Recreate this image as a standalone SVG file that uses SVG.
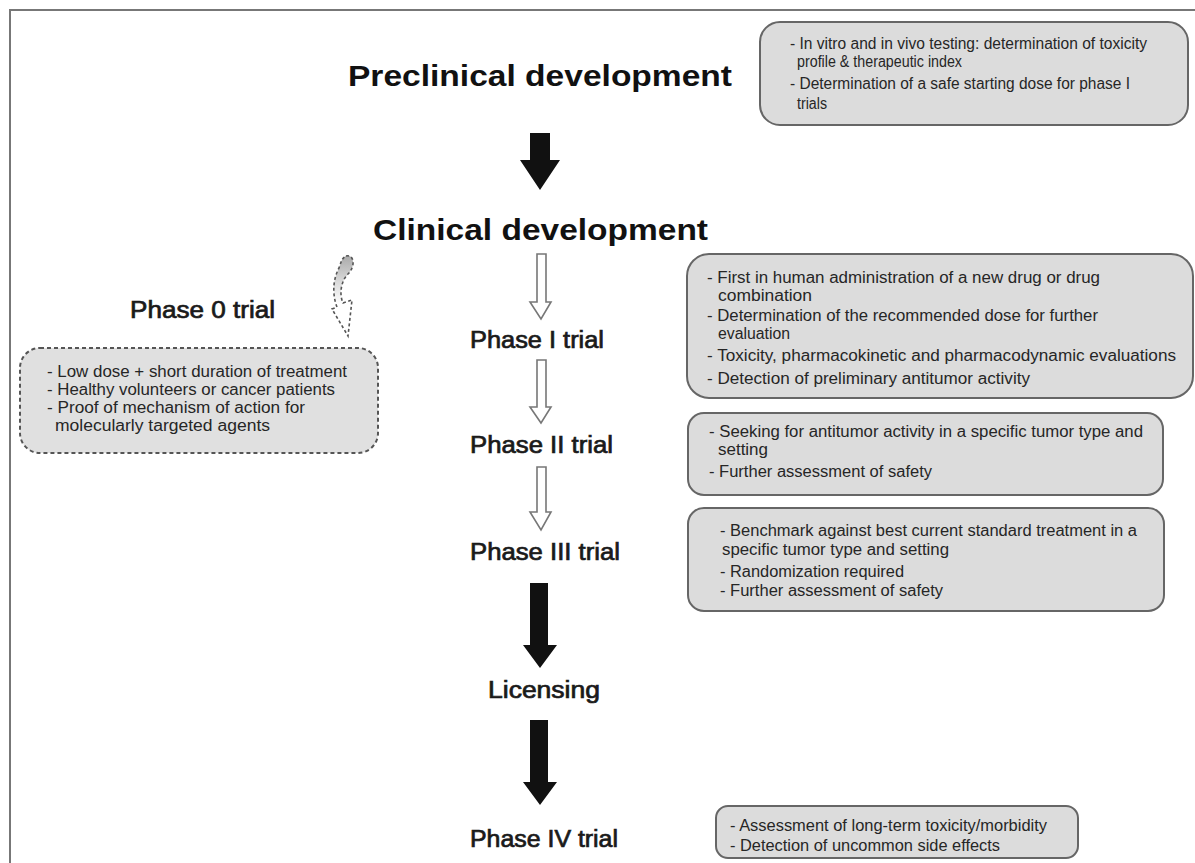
<svg xmlns="http://www.w3.org/2000/svg" width="1195" height="863" viewBox="0 0 1195 863">
<defs>
<style>
.title{font-family:"Liberation Sans",Arial,sans-serif;font-weight:bold;font-size:30px;fill:#111}
.phase{font-family:"Liberation Sans",Arial,sans-serif;font-size:23px;fill:#1a1a1a;stroke:#1a1a1a;stroke-width:0.7}
.bt{font-family:"Liberation Sans Narrow","Liberation Sans",Arial,sans-serif;font-size:16px;fill:#262626}
.bt0{font-family:"Liberation Sans",Arial,sans-serif;font-size:16px;fill:#262626}
.box{fill:#dcdcdc;stroke:#666;stroke-width:2}
.dbox{fill:#e0e0e0;stroke:#555;stroke-width:2;stroke-dasharray:4 3}
.harrow{fill:#fff;stroke:#777;stroke-width:1.6}
.barrow{fill:#111}
</style>
<linearGradient id="g0" x1="0" y1="0" x2="0" y2="1">
<stop offset="0" stop-color="#aaa"/>
<stop offset="0.35" stop-color="#ddd"/>
<stop offset="0.6" stop-color="#fff"/>
</linearGradient>
</defs>
<rect x="0" y="0" width="1195" height="863" fill="#fff"/>
<path d="M10,863 V10 H1195" fill="none" stroke="#777" stroke-width="2"/>

<g id="connectors">
<path class="barrow" d="M530,133 H550 V160 H560 L540,190 L520,160 H530 Z"/>
<path class="harrow" d="M537,254 H546 V302 H551 L541,319 L530,302 H537 Z"/>
<path class="harrow" d="M537,360 H546 V407 H551 L541,423 L530,407 H537 Z"/>
<path class="harrow" d="M537,467 H546 V512 H551 L541,530 L530,512 H537 Z"/>
<path class="barrow" d="M530,583 H548 V645 H557 L540,668 L523,645 H530 Z"/>
<path class="barrow" d="M530,720 H548 V782 H557 L540,805 L523,782 H530 Z"/>
<path d="M346,256 C354,254 356,266 348,274 C341,281 339,294 343,303 L352,300 L348,336 L332,309 L337,307 C332,294 333,279 339,268 C341,262 342,258 346,256 Z" fill="url(#g0)" stroke="#555" stroke-width="1.6" stroke-dasharray="3 2.5"/>
</g>

<g id="preclinical">
<text class="title" x="348" y="86" textLength="384" lengthAdjust="spacingAndGlyphs">Preclinical development</text>
</g>
<g id="preclinical-box">
<rect class="box" x="760" y="22" width="428" height="103" rx="20"/>
<text class="bt" x="790" y="49" textLength="357" lengthAdjust="spacingAndGlyphs">- In vitro and in vivo testing: determination of toxicity</text>
<text class="bt" x="797" y="67" textLength="165" lengthAdjust="spacingAndGlyphs">profile &amp; therapeutic index</text>
<text class="bt" x="790" y="89" textLength="340" lengthAdjust="spacingAndGlyphs">- Determination of a safe starting dose for phase I</text>
<text class="bt" x="797" y="109" textLength="30" lengthAdjust="spacingAndGlyphs">trials</text>
</g>

<g id="clinical">
<text class="title" x="373" y="240" textLength="335" lengthAdjust="spacingAndGlyphs">Clinical development</text>
</g>

<g id="phase0">
<text class="phase" x="130" y="318" textLength="145" lengthAdjust="spacingAndGlyphs">Phase 0 trial</text>
</g>
<g id="phase0-box">
<rect class="dbox" x="20" y="348" width="358" height="105" rx="20"/>
<text class="bt0" x="47" y="377" textLength="300" lengthAdjust="spacingAndGlyphs">- Low dose + short duration of treatment</text>
<text class="bt0" x="47" y="395" textLength="288" lengthAdjust="spacingAndGlyphs">- Healthy volunteers or cancer patients</text>
<text class="bt0" x="47" y="413" textLength="258" lengthAdjust="spacingAndGlyphs">- Proof of mechanism of action for</text>
<text class="bt0" x="55" y="431" textLength="215" lengthAdjust="spacingAndGlyphs">molecularly targeted agents</text>
</g>

<g id="phase1">
<text class="phase" x="470" y="348" textLength="134" lengthAdjust="spacingAndGlyphs">Phase I trial</text>
</g>
<g id="phase1-box">
<rect class="box" x="687" y="254" width="506" height="144" rx="22"/>
<text class="bt" x="707" y="283" textLength="393" lengthAdjust="spacingAndGlyphs">- First in human administration of a new drug or drug</text>
<text class="bt" x="718" y="301" textLength="94" lengthAdjust="spacingAndGlyphs">combination</text>
<text class="bt" x="707" y="321" textLength="391" lengthAdjust="spacingAndGlyphs">- Determination of the recommended dose for further</text>
<text class="bt" x="718" y="339" textLength="72" lengthAdjust="spacingAndGlyphs">evaluation</text>
<text class="bt" x="707" y="361" textLength="469" lengthAdjust="spacingAndGlyphs">- Toxicity, pharmacokinetic and pharmacodynamic evaluations</text>
<text class="bt" x="707" y="384" textLength="323" lengthAdjust="spacingAndGlyphs">- Detection of preliminary antitumor activity</text>
</g>

<g id="phase2">
<text class="phase" x="470" y="453" textLength="143" lengthAdjust="spacingAndGlyphs">Phase II trial</text>
</g>
<g id="phase2-box">
<rect class="box" x="688" y="413" width="475" height="82" rx="16"/>
<text class="bt" x="709" y="437" textLength="434" lengthAdjust="spacingAndGlyphs">- Seeking for antitumor activity in a specific tumor type and</text>
<text class="bt" x="718" y="455" textLength="50" lengthAdjust="spacingAndGlyphs">setting</text>
<text class="bt" x="709" y="477" textLength="223" lengthAdjust="spacingAndGlyphs">- Further assessment of safety</text>
</g>

<g id="phase3">
<text class="phase" x="470" y="560" textLength="150" lengthAdjust="spacingAndGlyphs">Phase III trial</text>
</g>
<g id="phase3-box">
<rect class="box" x="688" y="508" width="476" height="103" rx="16"/>
<text class="bt" x="720" y="536" textLength="417" lengthAdjust="spacingAndGlyphs">- Benchmark against best current standard treatment in a</text>
<text class="bt" x="722" y="555" textLength="227" lengthAdjust="spacingAndGlyphs">specific tumor type and setting</text>
<text class="bt" x="720" y="577" textLength="184" lengthAdjust="spacingAndGlyphs">- Randomization required</text>
<text class="bt" x="720" y="596" textLength="223" lengthAdjust="spacingAndGlyphs">- Further assessment of safety</text>
</g>

<g id="licensing">
<text class="phase" x="488" y="698" textLength="112" lengthAdjust="spacingAndGlyphs">Licensing</text>
</g>

<g id="phase4">
<text class="phase" x="470" y="847" textLength="148" lengthAdjust="spacingAndGlyphs">Phase IV trial</text>
</g>
<g id="phase4-box">
<rect class="box" x="716" y="806" width="362" height="52" rx="12"/>
<text class="bt" x="730" y="831" textLength="317" lengthAdjust="spacingAndGlyphs">- Assessment of long-term toxicity/morbidity</text>
<text class="bt" x="730" y="851" textLength="270" lengthAdjust="spacingAndGlyphs">- Detection of uncommon side effects</text>
</g>
</svg>
